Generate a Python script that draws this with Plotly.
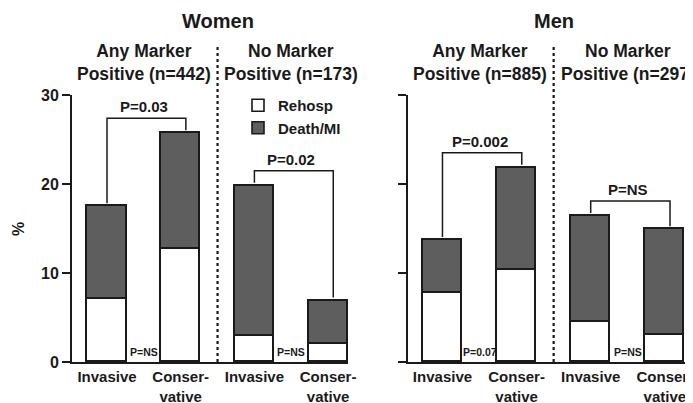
import plotly.graph_objects as go
from plotly.subplots import make_subplots

# ---- data ----
x_pos = [0, 1, 2, 3]
x_labels = ["Invasive", "Conser-<br>vative", "Invasive", "Conser-<br>vative"]

women_rehosp = [7.1, 12.7, 2.9, 2.0]
women_total = [17.5, 25.7, 19.8, 6.9]
men_rehosp = [7.7, 10.3, 4.5, 3.0]
men_total = [13.7, 21.8, 16.4, 14.9]

group_titles = ["Any Marker<br>Positive (n=442)", "No Marker<br>Positive (n=173)",
                "Any Marker<br>Positive (n=885)", "No Marker<br>Positive (n=297)"]
panel_titles = ["Women", "Men"]
p_top = ["P=0.03", "P=0.02", "P=0.002", "P=NS"]
p_bottom = ["P=NS", "P=NS", "P=0.07", "P=NS"]

y_ticks = [0, 10, 20, 30]

# ---- styling ----
FONT = "Liberation Sans, Arial, Helvetica, sans-serif"
INK = "#1a1a1a"
GREY = "#5e5e5e"
OFF = 8            # page body margin
W, H = 693 - OFF, 403 - OFF


def fx(px):
    return (px - OFF) / W


def fy(py):
    return (403 - py) / H


fig = make_subplots(rows=1, cols=2)

panels = [(women_rehosp, women_total, "x", "y", 1), (men_rehosp, men_total, "x2", "y2", 2)]
for i, (reh, tot, xr, yr, col) in enumerate(panels):
    death = [round(t - r, 2) for t, r in zip(tot, reh)]
    fig.add_trace(go.Bar(x=x_pos, y=reh, name="Rehosp", width=0.53,
                         marker=dict(color="white", line=dict(color=INK, width=1.6)),
                         showlegend=(i == 0), legendgroup="r"), row=1, col=col)
    fig.add_trace(go.Bar(x=x_pos, y=death, name="Death/MI", width=0.53,
                         marker=dict(color=GREY, line=dict(color=INK, width=1.6)),
                         showlegend=(i == 0), legendgroup="d"), row=1, col=col)

    for g in range(2):
        a, b = 2 * g, 2 * g + 1
        top = max(tot[a], tot[b]) + 1.7
        xa, xb = x_pos[a], x_pos[b] + 0.07
        fig.add_shape(type="path", xref=xr, yref=yr,
                      path=f"M {xa} {tot[a] + 0.35} L {xa} {top} L {xb} {top} L {xb} {tot[b] + 0.35}",
                      line=dict(color=INK, width=1.5))
        fig.add_annotation(x=(x_pos[a] + x_pos[b]) / 2, y=top, xref=xr, yref=yr,
                           text=f"<b>{p_top[2 * i + g]}</b>", showarrow=False,
                           yanchor="bottom", yshift=1,
                           font=dict(family=FONT, size=15, color=INK))
        fig.add_annotation(x=(x_pos[a] + x_pos[b]) / 2, y=0, xref=xr, yref=yr,
                           text=f"<b>{p_bottom[2 * i + g]}</b>", showarrow=False,
                           yanchor="bottom", yshift=2,
                           font=dict(family=FONT, size=10.5, color=INK))
        fig.add_annotation(x=(x_pos[a] + x_pos[b]) / 2, y=fy(63), xref=xr, yref="paper",
                           text=f"<b>{group_titles[2 * i + g]}</b>", showarrow=False,
                           yanchor="middle", align="center",
                           font=dict(family=FONT, size=17.5, color=INK))
    fig.add_shape(type="line", xref=xr, yref="paper", x0=1.5, x1=1.5,
                  y0=fy(362), y1=fy(45),
                  line=dict(color=INK, width=2.2, dash="dot"))
    fig.add_annotation(x=1.5, y=fy(21), xref=xr, yref="paper",
                       text=f"<b>{panel_titles[i]}</b>", showarrow=False, yanchor="middle",
                       font=dict(family=FONT, size=20, color=INK))

fig.add_annotation(x=fx(18), y=fy(229), xref="paper", yref="paper", text="<b>%</b>",
                   textangle=-90, showarrow=False, xanchor="center", yanchor="middle",
                   font=dict(family=FONT, size=16, color=INK))

ydom = [fy(362), fy(95)]
common_x = dict(tickvals=x_pos, ticktext=x_labels, ticks="", showline=True, linecolor=INK,
                linewidth=2, showgrid=False, zeroline=False, automargin=False,
                ticklabeloverflow="allow",
                tickfont=dict(family=FONT, size=15, color=INK, weight="bold"))
common_y = dict(range=[0, 30], tickvals=y_ticks, ticks="outside", ticklen=8, tickwidth=1.8,
                tickcolor=INK, showline=True, linecolor=INK, linewidth=2, showgrid=False,
                zeroline=False, domain=ydom, automargin=False,
                tickfont=dict(family=FONT, size=16, color=INK, weight="bold"))

fig.update_xaxes(common_x, range=[-0.475, 3.27], domain=[fx(72), fx(348)], row=1, col=1)
fig.update_xaxes(common_x, range=[-0.465, 3.38], domain=[fx(408), 1.0], row=1, col=2)
fig.update_yaxes(common_y, row=1, col=1)
fig.update_yaxes(common_y, showticklabels=False, row=1, col=2)

fig.update_layout(
    width=W, height=H, barmode="stack", bargap=0,
    margin=dict(l=0, r=0, t=0, b=0, autoexpand=False),
    plot_bgcolor="white", paper_bgcolor="white",
    font=dict(family=FONT, color=INK),
    legend=dict(x=fx(238), y=fy(89), xanchor="left", yanchor="top",
                bgcolor="rgba(0,0,0,0)", borderwidth=0, itemwidth=30,
                traceorder="normal",
                font=dict(family=FONT, size=15, color=INK, weight="bold")),
)

fig.write_html("out.html")
